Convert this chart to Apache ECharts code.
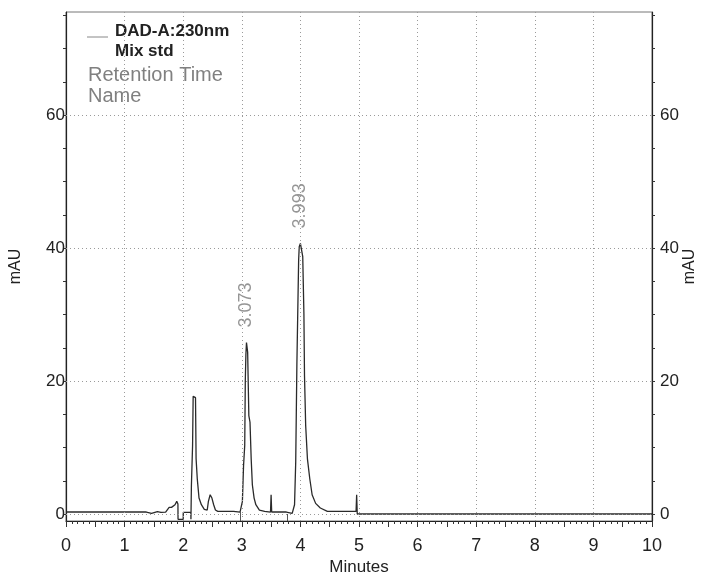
<!DOCTYPE html>
<html>
<head>
<meta charset="utf-8">
<script src="https://cdn.jsdelivr.net/npm/echarts@6/dist/echarts.min.js"></script>
<style>
html, body { margin: 0; padding: 0; background: #fff; }
#chart { width: 705px; height: 575px; }
</style>
</head>
<body>
<div id="chart"></div>
<script>
// DAD-A:230nm trace (minutes, mAU)
const times = [0, 1.37, 1.39, 1.46, 1.48, 1.56, 1.62, 1.70, 1.73, 1.76, 1.80, 1.83, 1.86, 1.89, 1.91, 1.912,
    2.0, 2.002, 2.13, 2.132, 2.14, 2.16, 2.17, 2.21, 2.22, 2.24, 2.27, 2.31, 2.36, 2.41, 2.43, 2.46, 2.49, 2.52, 2.55, 2.59,
    2.82, 2.84, 2.86, 2.97, 2.98, 3.01, 3.03, 3.05, 3.06, 3.07, 3.08, 3.10, 3.12, 3.14, 3.16, 3.18, 3.21, 3.24, 3.30, 3.39,
    3.49, 3.50, 3.51, 3.76, 3.78, 3.86, 3.90, 3.92, 3.94, 3.97, 3.98, 4.0, 4.04, 4.06, 4.07, 4.09, 4.12, 4.16, 4.20, 4.26,
    4.34, 4.46, 4.95, 4.96, 4.97, 10];
const signal = [0.3, 0.3, 0.1, 0.1, 0.35, 0.35, 0.25, 0.3, 0.6, 1.0, 1.0, 0.8, 1.4, 1.9, 1.5, -0.8,
    -0.8, 0.25, 0.25, -0.8, 4.3, 10.3, 17.7, 17.5, 8.3, 5.3, 2.4, 1.4, 0.7, 0.6, 1.9, 2.9, 2.4, 1.4, 0.6, 0.4,
    0.4, 0.1, 0.4, 0.3, 0.1, 1.9, 7.3, 10.3, 20.2, 24.0, 25.8, 24.3, 14.8, 13.8, 8.3, 4.4, 2.4, 1.4, 0.6, 0.4,
    0.3, 2.9, 0.3, 0.3, 0.0, 0.1, 1.4, 7.8, 22.5, 38.2, 40.2, 40.7, 38.7, 30.0, 20.8, 13.3, 8.3, 5.3, 2.9, 1.6,
    0.9, 0.4, 0.4, 2.9, 0.0, 0.0];

// labelled peaks
const peakTimes = [3.073, 3.993];
const peakHeights = [25.8, 40.7];

// integration drop lines
const dropTimes = [2.98, 3.78];
const dropTops = [0.3, 0.0];

// axes
const xGrid = [1, 2, 3, 4, 5, 6, 7, 8, 9];
const xHalfTicks = [0, 0.5, 1, 1.5, 2, 2.5, 3, 3.5, 4, 4.5, 5, 5.5, 6, 6.5, 7, 7.5, 8, 8.5, 9, 9.5, 10];
const yLabels = [0, 20, 40, 60];
const yTicks = [0, 5, 10, 15, 20, 25, 30, 35, 40, 45, 50, 55, 60, 65, 70, 75];
const yMin = -1.05;
const yMax = 75.5;

const FONT = 'Liberation Sans, Arial, sans-serif';

var myChart = echarts.init(document.getElementById('chart'), null, { renderer: 'canvas' });

const dotted = { color: '#9a9a9a', width: 1, type: [1, 3] };

function yAxisOpt(pos, margin, gap) {
    return {
        type: 'value',
        position: pos,
        min: yMin,
        max: yMax,
        name: 'mAU',
        nameLocation: 'middle',
        nameGap: gap,
        nameRotate: 90,
        nameMoveOverlap: false,
        nameTextStyle: { fontSize: 16, color: '#222', fontFamily: FONT },
        axisLine: { show: true, lineStyle: { color: '#222', width: 1.2 } },
        axisTick: { show: true, customValues: yTicks, length: 3, lineStyle: { color: '#333' } },
        axisLabel: { customValues: yLabels, fontSize: 17, color: '#222', margin: margin, fontFamily: FONT },
        splitLine: { show: false }
    };
}

var option = {
    animation: false,
    backgroundColor: '#fff',
    grid: {
        left: 66, right: 53, top: 12, bottom: 54,
        outerBoundsMode: 'none',
        show: true, borderColor: '#777', borderWidth: 1
    },
    xAxis: {
        type: 'value',
        min: 0,
        max: 10,
        interval: 1,
        name: 'Minutes',
        nameLocation: 'middle',
        nameGap: 38,
        nameMoveOverlap: false,
        nameTextStyle: { fontSize: 17, color: '#222', fontFamily: FONT },
        axisLine: { onZero: false, lineStyle: { color: '#222', width: 1.2 } },
        axisTick: { show: true, customValues: xHalfTicks, length: 6, lineStyle: { color: '#333' } },
        minorTick: { show: true, splitNumber: 10, length: 3, lineStyle: { color: '#333' } },
        axisLabel: { fontSize: 18, color: '#222', margin: 16, fontFamily: FONT },
        splitLine: { show: false }
    },
    yAxis: [yAxisOpt('left', 1, 42), yAxisOpt('right', 8, 30)],
    graphic: [
        { type: 'line', shape: { x1: 87, y1: 37, x2: 108, y2: 37 }, style: { stroke: '#888', lineWidth: 1 } },
        { type: 'text', x: 115, y: 31, style: { text: 'DAD-A:230nm', font: 'bold 17px ' + FONT, fill: '#222', verticalAlign: 'middle' } },
        { type: 'text', x: 115, y: 51, style: { text: 'Mix std', font: 'bold 17px ' + FONT, fill: '#222', verticalAlign: 'middle' } },
        { type: 'text', x: 88, y: 75, style: { text: 'Retention Time', font: '20px ' + FONT, fill: '#808080', verticalAlign: 'middle' } },
        { type: 'text', x: 88, y: 96, style: { text: 'Name', font: '20px ' + FONT, fill: '#808080', verticalAlign: 'middle' } }
    ],
    series: [
        {
            name: 'grid',
            type: 'line',
            data: [],
            silent: true,
            markLine: {
                silent: true,
                symbol: 'none',
                label: { show: false },
                lineStyle: dotted,
                data: xGrid.map(v => ({ xAxis: v })).concat(yLabels.map(v => ({ yAxis: v })))
            }
        },
        {
            name: 'DAD-A:230nm',
            type: 'line',
            showSymbol: false,
            data: times.map((t, i) => [t, signal[i]]),
            lineStyle: { color: '#2a2a2a', width: 1.3 },
            markLine: {
                silent: true,
                symbol: 'none',
                label: { show: false },
                lineStyle: { color: '#555', width: 1, type: 'solid' },
                data: dropTimes.map((t, i) => [{ coord: [t, dropTops[i]] }, { coord: [t, yMin] }])
            },
            z: 3
        },
        {
            name: 'peaks',
            type: 'scatter',
            symbolSize: 0,
            data: peakTimes.map((t, i) => [t, peakHeights[i]]),
            label: {
                show: true,
                position: 'top',
                distance: 15,
                rotate: 90,
                align: 'left',
                verticalAlign: 'middle',
                fontSize: 18,
                color: '#7a7a7a',
                fontFamily: FONT,
                formatter: p => p.value[0].toFixed(3)
            },
            z: 4
        }
    ]
};

myChart.setOption(option);
</script>
</body>
</html>
